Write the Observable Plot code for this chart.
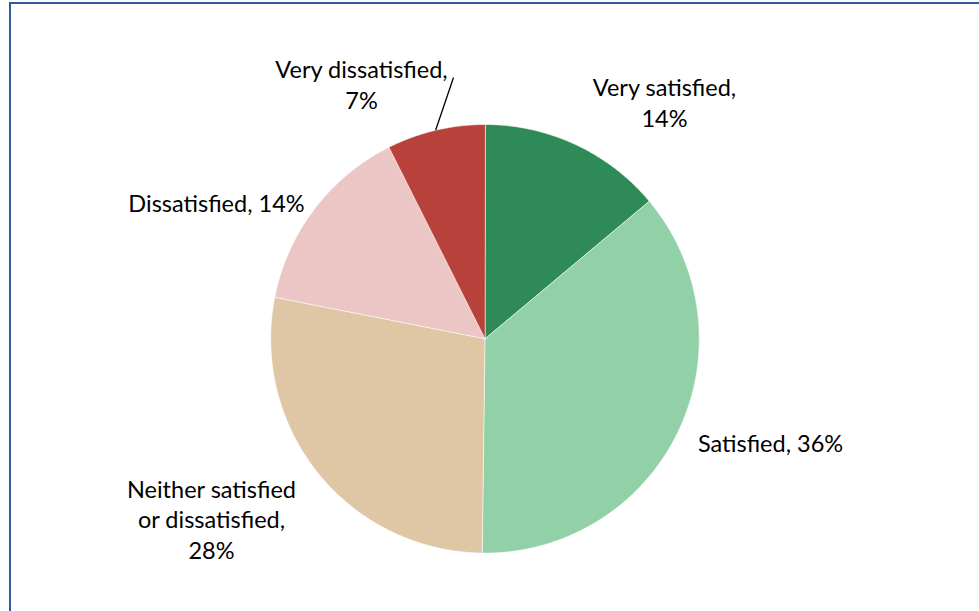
<!DOCTYPE html>
<html>
<head>
<meta charset="utf-8">
<script src="https://cdn.jsdelivr.net/npm/d3@7"></script>
<script src="https://cdn.jsdelivr.net/npm/@observablehq/plot@0.6"></script>
<style>
  html, body { margin: 0; padding: 0; background: #fff; }
  #wrap { position: relative; width: 979px; height: 611px; overflow: hidden; }
  #frame { position: absolute; left: 9px; top: 2px; width: 1000px; height: 700px;
           border: 2px solid #2f5c9e; box-sizing: border-box; pointer-events: none; }
  #chart { position: absolute; left: 0; top: 0; }
</style>
</head>
<body>
<div id="wrap"><div id="chart"></div><div id="frame"></div></div>
<script>
// ---- data ----
const categories = ["Very satisfied", "Satisfied", "Neither satisfied or dissatisfied", "Dissatisfied", "Very dissatisfied"];
const values = [13.9, 36.3, 27.9, 14.5, 7.4];
const pctLabels = ["14%", "36%", "28%", "14%", "7%"];
const labelTexts = ["Very satisfied,\n14%", "Satisfied, 36%", "Neither satisfied\nor dissatisfied,\n28%", "Dissatisfied, 14%", "Very dissatisfied,\n7%"];
const colors = ["#2e8b57", "#92d0a8", "#dfc7a6", "#ecc5c5", "#b8423b"];

// ---- layout (pixels) ----
const W = 979, H = 611;
const cx = 484.5, cy = 338.3, R = 214.3;
// label centres in pixels (relative to page)
const labelPos = [[664, 101], [770, 442], [211, 518], [216, 202], [361, 83]];
const leaderEnd = [453, 77];

// pie geometry through d3.pie
const pie = d3.pie().sort(null).value(d => d.value);
const table = categories.map((c, i) => ({category: c, value: values[i], label: labelTexts[i], pct: pctLabels[i]}));
const arcs = pie(table);

// polygons in unit coordinates (radius = 1), y up
const polyPts = [];
arcs.forEach(a => {
  const n = Math.max(2, Math.ceil((a.endAngle - a.startAngle) / 0.01));
  polyPts.push({category: a.data.category, x: 0, y: 0});
  for (let k = 0; k <= n; k++) {
    const t = a.startAngle + (a.endAngle - a.startAngle) * k / n;
    polyPts.push({category: a.data.category, x: Math.sin(t), y: Math.cos(t)});
  }
});

const toUx = px => (px - cx) / R;
const toUy = py => (cy - py) / R;

const labels = table.map((d, i) => ({text: d.label, x: toUx(labelPos[i][0]), y: toUy(labelPos[i][1])}));

const vd = arcs[4];
const mid = (vd.startAngle + vd.endAngle) / 2;
const leader = [{x1: Math.sin(mid), y1: Math.cos(mid), x2: toUx(leaderEnd[0]), y2: toUy(leaderEnd[1])}];

const plot = Plot.plot({
  width: W, height: H,
  margin: 0,
  x: {domain: [toUx(0), toUx(W)], range: [0, W], axis: null},
  y: {domain: [toUy(H), toUy(0)], range: [H, 0], axis: null},
  color: {domain: categories, range: colors},
  style: {fontFamily: "Lato, 'Open Sans', sans-serif", background: "transparent"},
  marks: [
    Plot.line(polyPts, {x: "x", y: "y", z: "category", fill: "category", stroke: "white", strokeWidth: 0.6, curve: "linear-closed"}),
    Plot.link(leader, {x1: "x1", y1: "y1", x2: "x2", y2: "y2", stroke: "black", strokeWidth: 1.3}),
    Plot.text(labels, {x: "x", y: "y", text: "text", fontSize: 23.5, lineHeight: 1.3, fill: "black", textAnchor: "middle"})
  ]
});
document.getElementById("chart").appendChild(plot);
</script>
</body>
</html>
